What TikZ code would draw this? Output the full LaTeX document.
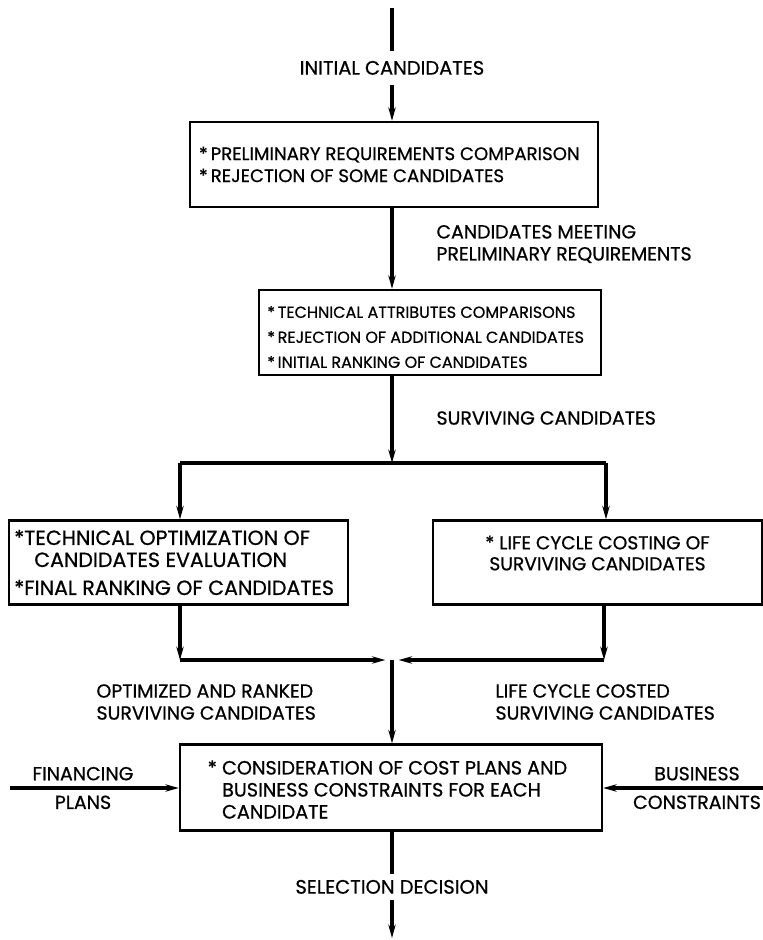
\documentclass[tikz,border=0pt]{standalone}
\usepackage{fontspec}
\setmainfont{Poppins}[FakeBold=0.7]
\usetikzlibrary{arrows.meta}

\tikzset{every picture/.style={line width=0.75pt}}
\tikzset{
  flowtext/.style={font=\fontsize{#1}{16.5}\selectfont},
  flowtext/.default=14.2,
  flowbox/.style={draw, line width=1.8pt, inner sep=0pt},
  flowlbl/.style={flowtext, inner sep=0.75pt},
  gaplbl/.style={flowtext=14.6, text height=10pt, text depth=0pt, inner xsep=0.75pt},
  flowline/.style={line width=2.4pt},
  flowarrow/.style={flowline, -{Stealth[length=10pt,width=5.5pt]}},
}

\begin{document}
\begin{tikzpicture}[x=0.75pt,y=0.75pt,yscale=-1,xscale=1]
\useasboundingbox (0,0) rectangle (763,940);

%Shape: Rectangle [id:prelim]
\node [flowbox, minimum width=306pt, minimum height=63.75pt] (prelim) at (394,164.5) {};
%Shape: Rectangle [id:techcmp]
\node [flowbox, minimum width=256.5pt, minimum height=63.75pt] (techcmp) at (430,332.5) {};
%Shape: Rectangle [id:techopt]
\node [flowbox, minimum width=254.25pt, minimum height=63pt] (techopt) at (178.5,562.5) {};
%Shape: Rectangle [id:lcc]
\node [flowbox, minimum width=246.75pt, minimum height=63pt] (lcc) at (597.5,562.5) {};
%Shape: Rectangle [id:consid]
\node [flowbox, minimum width=316.5pt, minimum height=64.5pt] (consid) at (391,787.5) {};

% Text Node
\node [flowlbl, flowtext=13.6, anchor=west, align=left] (prelimtxt) at ([xshift=6.5pt]prelim.west)
  {{*}\,PRELIMINARY REQUIREMENTS COMPARISON\\{*}\,REJECTION OF SOME CANDIDATES};
% Text Node
\node [flowlbl, font=\fontsize{12}{18.75}\selectfont, anchor=west, align=left] (techcmptxt) at ([xshift=6pt,yshift=3.4pt]techcmp.west)
  {{*}\,TECHNICAL ATTRIBUTES COMPARISONS\\{*}\,REJECTION OF ADDITIONAL CANDIDATES\\{*}\,INITIAL RANKING OF CANDIDATES};
% Text Node
\node [flowlbl, flowtext=15.4, anchor=west, align=left] (techopttxt) at ([xshift=3.75pt]techopt.west)
  {{*}TECHNICAL OPTIMIZATION OF\\\hspace*{15pt}CANDIDATES EVALUATION\\[4.5pt]{*}FINAL RANKING OF CANDIDATES};
% Text Node
\node [flowlbl, font=\fontsize{14}{15.75}\selectfont, align=center] (lcctxt) at ([yshift=-7.1pt]lcc.center)
  {{*}\ LIFE CYCLE COSTING OF\\SURVIVING CANDIDATES};
% Text Node
\node [flowlbl, flowtext=14.4, anchor=west, align=left] (considtxt) at ([xshift=20.5pt,yshift=1.5pt]consid.west)
  {{*}\ CONSIDERATION OF COST PLANS AND\\\hphantom{*\ }BUSINESS CONSTRAINTS FOR EACH\\\hphantom{*\ }CANDIDATE};

% Text Node
\node [gaplbl, inner ysep=7.5pt] (initlbl) at (392,68) {INITIAL CANDIDATES};
% Text Node
\node [flowlbl, anchor=west, align=left] (meetlbl) at (435,244) {CANDIDATES MEETING\\PRELIMINARY REQUIREMENTS};
% Text Node
\node [flowlbl, anchor=west] (survlbl) at (435,418) {SURVIVING CANDIDATES};
% Text Node
\node [flowlbl, anchor=west, align=left] (optlbl) at (95,702) {OPTIMIZED AND RANKED\\SURVIVING CANDIDATES};
% Text Node
\node [flowlbl, anchor=west, align=left] (costlbl) at (494,702) {LIFE CYCLE COSTED\\SURVIVING CANDIDATES};
% Text Node
\node [flowlbl, align=center] (finlbl) at (83,788) {FINANCING\\[5pt]PLANS};
% Text Node
\node [flowlbl, align=center] (buslbl) at (697,788) {BUSINESS\\[5pt]CONSTRAINTS};
% Text Node
\node [gaplbl, inner ysep=4.5pt] (sellbl) at (392,887) {SELECTION DECISION};

\coordinate (src) at (392,8);
\coordinate (split) at (392,463);
\coordinate (splitL) at (180,463);
\coordinate (splitR) at (606,463);
\coordinate (join) at (392,660);
\coordinate (joinL) at (180,660);
\coordinate (joinR) at (604,660);
\coordinate (finsrc) at (10,788);
\coordinate (bussrc) at (763,788);
\coordinate (sink) at (392,938);

%Straight Lines
\draw [flowline] (src) -- (initlbl.north);
\draw [flowarrow] (initlbl.south) -- (prelim.north -| initlbl.south);
\draw [flowarrow] (prelim.south -| initlbl.south) -- (techcmp.north -| initlbl.south);
\draw [flowarrow] (techcmp.south -| split) -- (split);
%Straight Lines
\draw [flowline] (splitL) -- (splitR);
\draw [flowarrow] (splitL) -- (splitL |- techopt.north);
\draw [flowarrow] (splitR) -- (splitR |- lcc.north);
%Straight Lines
\draw [flowarrow] (joinL |- techopt.south) -- (joinL);
\draw [flowarrow] (joinR |- lcc.south) -- (joinR);
\draw [flowarrow, shorten >=5] (joinL) -- (join);
\draw [flowarrow, shorten >=5] (joinR) -- (join);
\draw [flowarrow] (join) -- (join |- consid.north);
%Straight Lines
\draw [flowarrow] (finsrc) -- (finsrc -| consid.west);
\draw [flowarrow] (bussrc) -- (bussrc -| consid.east);
\draw [flowline] (join |- consid.south) -- (sellbl.north);
\draw [flowarrow] (sellbl.south) -- (sink);

\end{tikzpicture}
\end{document}
